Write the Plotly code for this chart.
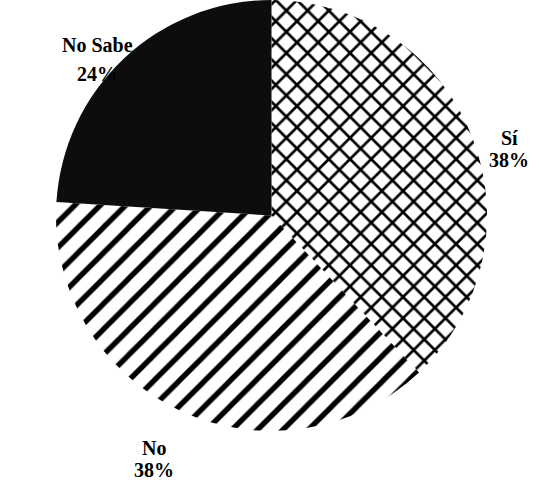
import plotly.graph_objects as go

labels = ["Sí", "No", "No Sabe"]
values = [38, 38, 24]
colors = ["white", "white", "#0d0d0d"]
patterns = ["x", "/", ""]

W, H = 539, 481

fig = go.Figure(go.Pie(
    labels=labels,
    values=values,
    sort=False,
    direction="clockwise",
    rotation=0,
    textinfo="none",
    hoverinfo="label+percent",
    marker=dict(
        colors=colors,
        line=dict(width=0),
        pattern=dict(shape=patterns, fgcolor="black", size=[15, 18, 10],
                     solidity=[0.33, 0.3, 0.3], fillmode="replace"),
    ),
    domain=dict(x=[(271.5 - 216) / W, (271.5 + 216) / W], y=[1 - 431 / H, 1.0]),
    showlegend=False,
))

# label positions (pixel centers of the two text lines) per slice
label_px = {"Sí": (509, 138, 160), "No": (154, 448, 470), "No Sabe": (97, 45, 74)}
font = dict(family="Liberation Serif, Times New Roman, serif", size=20, color="black")
ann = []
for lab, v in zip(labels, values):
    x, y1, y2 = label_px[lab]
    for txt, yy in ((f"<b>{lab}</b>", y1), (f"<b>{v}%</b>", y2)):
        ann.append(dict(text=txt, x=x / W, y=1 - yy / H, xref="paper", yref="paper",
                        xanchor="center", yanchor="middle", showarrow=False, font=font))

fig.update_layout(
    width=W, height=H,
    margin=dict(l=0, r=0, t=0, b=0),
    paper_bgcolor="white", plot_bgcolor="white",
    annotations=ann,
)

fig.write_html("out.html", config={"displayModeBar": False},
               post_script="document.body.style.margin='0';")
